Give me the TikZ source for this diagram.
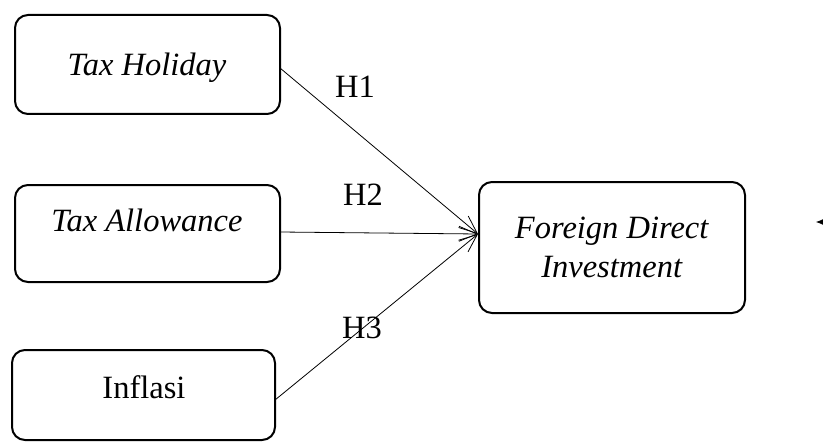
\documentclass[tikz,border=0pt]{standalone}
\usepackage{fontspec}
\setmainfont{Liberation Serif}
\usetikzlibrary{arrows.meta}
\begin{document}
\begin{tikzpicture}[x=1pt,y=-1pt,
  box/.style={draw, line width=2pt, rounded corners=13pt, inner sep=0pt},
  txt/.style={anchor=base, inner sep=0pt, font=\fontsize{32.5}{38}\selectfont},
  conn/.style={line width=0.8pt, -{Straight Barb[length=18pt,width=15pt,line width=0.8pt]}}]
\useasboundingbox (0,0) rectangle (823,444);
% boxes
\node[box, minimum width=265pt, minimum height=99pt] (b1) at (147.5,64.5) {};
\node[box, minimum width=265pt, minimum height=97pt] (b2) at (147.5,233.5) {};
\node[box, minimum width=263pt, minimum height=90pt] (b3) at (143.5,395) {};
\node[box, minimum width=266pt, minimum height=131pt] (fdi) at (612,247.5) {};
% texts
\node[txt] (t1) at (147,76) {\textit{Tax Holiday}};
\node[txt] (t2) at (147,231) {\textit{Tax Allowance}};
\node[txt] (t3) at (144,398) {Inflasi};
\node[txt] (t4) at (612,238) {\textit{Foreign Direct}};
\node[txt] (t5) at (612,277) {\textit{Investment}};
% connectors
\coordinate (s1) at (280,68);
\coordinate (s2) at (280,232);
\coordinate (s3) at (275,400);
\coordinate (e) at (478,234);
\draw[conn] (s1) -- (e);
\draw[conn] (s2) -- (e);
\draw[conn] (s3) -- (e);
% labels
\node[txt] (h1) at (355,98) {H1};
\node[txt] (h2) at (363,205) {H2};
\node[txt] (h3) at (362,338) {H3};
% stray arrowhead at right edge
\coordinate (xa) at (850,222);
\coordinate (xb) at (816,222);
\draw[line width=0.8pt, -{Latex[length=10pt,width=9pt]}] (xa) -- (xb);
\end{tikzpicture}
\end{document}
